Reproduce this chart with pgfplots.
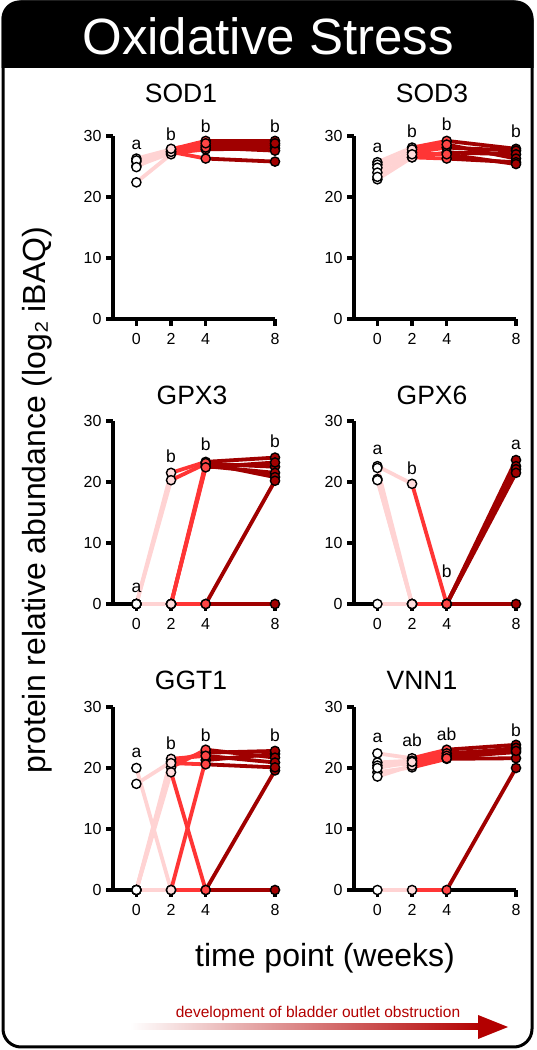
\documentclass[border=0pt]{standalone}
\usepackage{pgfplots}
\pgfplotsset{compat=1.18}
\usepackage{pgfplotstable}
\usepackage{fontspec}
\setmainfont{Liberation Sans}
\usetikzlibrary{shadings}

\definecolor{l02}{HTML}{FFD3D3}
\definecolor{l24}{HTML}{FF3535}
\definecolor{l48}{HTML}{A00000}
\definecolor{c2}{HTML}{FFDCDC}
\definecolor{c4}{HTML}{FF4545}
\definecolor{c8}{HTML}{A30000}
\definecolor{arr}{HTML}{B30000}

% subjects: value at week 0, 2, 4, 8
\pgfplotstableread{
t0 t2 t4 t8
26.3 27.8 29.2 29.2
25.8 27.5 28.4 28.5
25.1 27.2 27.8 28.0
22.4 27.0 28.1 27.6
26.0 27.4 26.3 25.8
24.9 27.9 28.8 28.8
}\sodone
\pgfplotstableread{
t0 t2 t4 t8
25.7 28.1 29.2 27.9
25.3 27.3 28.1 27.6
24.8 26.5 27.3 27.0
24.0 27.8 28.6 26.3
22.9 26.5 26.3 25.7
23.3 27.0 27.0 25.4
}\sodthree
\pgfplotstableread{
t0 t2 t4 t8
0 21.5 23.3 24.0
0 20.3 23.0 22.5
0 0 22.6 21.5
0 0 23.1 20.8
0 0 22.4 23.2
0 0 0 20.2
0 0 0 0
}\gpxthree
\pgfplotstableread{
t0 t2 t4 t8
22.6 19.7 0 23.6
20.5 0 0 22.6
22.3 0 0 22.1
20.3 0 0 21.5
0 0 0 0
}\gpxsix
\pgfplotstableread{
t0 t2 t4 t8
20.0 0 21.3 22.3
17.4 21.0 22.5 22.8
0 20.1 23.0 21.7
0 19.3 0 19.6
0 21.5 22.0 20.9
0 20.8 20.6 20.1
0 0 0 0
}\ggtone
\pgfplotstableread{
t0 t2 t4 t8
22.4 21.6 23.0 23.8
20.9 21.2 22.4 23.1
20.4 20.7 21.8 22.6
19.3 20.1 21.5 21.6
18.6 20.4 22.0 23.3
20.0 21.0 21.6 22.8
0 0 0 20.0
}\vnnone

\pgfplotsset{
  panel/.style={
    scale only axis, width=162pt, height=183pt,
    xmin=-1.35, xmax=8, ymin=0, ymax=30,
    axis x line=bottom, axis y line=left,
    axis line style={line width=3.2pt, -, black},
    xtick={0,2,4,8}, ytick={0,10,20,30},
    every tick/.append style={line width=3.2pt, black},
    major tick length=7pt, tick align=outside,
    clip=false, anchor=south west,
    /pgf/number format/assume math mode=true,
    tick label style={font=\fontsize{16}{16}\selectfont},
    xticklabel style={yshift=-4pt},
    yticklabel style={xshift=-1pt},
  },
  seg/.style={no markers, line width=3.8pt, line cap=round},
  pt/.style={only marks, mark=*, mark size=4.6pt,
    mark options={draw=black, line width=1.4pt, fill=#1}},
}

\newcommand{\plotpanel}[1]{%
  \addplot[l02, seg, quiver={u=2, v=\thisrow{t2}-\thisrow{t0}}] table[x expr=0, y=t0]{#1};
  \addplot[l24, seg, quiver={u=2, v=\thisrow{t4}-\thisrow{t2}}] table[x expr=2, y=t2]{#1};
  \addplot[l48, seg, quiver={u=4, v=\thisrow{t8}-\thisrow{t4}}] table[x expr=4, y=t4]{#1};
  \addplot[pt=white] table[x expr=0, y=t0]{#1};
  \addplot[pt=c2] table[x expr=2, y=t2]{#1};
  \addplot[pt=c4] table[x expr=4, y=t4]{#1};
  \addplot[pt=c8] table[x expr=8, y=t8]{#1};
}
\newcommand{\lt}{\fontsize{17.5}{17.5}\selectfont}
\newcommand{\ttl}{\fontsize{26.5}{26.5}\selectfont}

\begin{document}
\begin{tikzpicture}[x=1pt, y=1pt]
\path[use as bounding box] (0,0) rectangle (537,1050);
\begin{scope}
  \clip[rounded corners=18pt] (1.5,1.5) rectangle (533.5,1049.5);
  \fill[black] (0,982) rectangle (537,1050);
\end{scope}
\draw[line width=3pt, rounded corners=18pt] (3,3) rectangle (532,1048);
\node[white, font=\fontsize{51}{51}\selectfont] at (268,1014) {Oxidative Stress};

% row 1
\begin{axis}[panel, at={(113pt,731pt)}]
\plotpanel{\sodone}
\node[font=\lt] at (axis cs:0,28.6) {a};
\node[font=\lt] at (axis cs:2,30.3) {b};
\node[font=\lt] at (axis cs:4,31.6) {b};
\node[font=\lt] at (axis cs:8,31.6) {b};
\end{axis}
\begin{axis}[panel, at={(354pt,731pt)}]
\plotpanel{\sodthree}
\node[font=\lt] at (axis cs:0,28.0) {a};
\node[font=\lt] at (axis cs:2,30.8) {b};
\node[font=\lt] at (axis cs:4,31.9) {b};
\node[font=\lt] at (axis cs:8,30.8) {b};
\end{axis}
% row 2
\begin{axis}[panel, at={(113pt,446pt)}]
\plotpanel{\gpxthree}
\node[font=\lt] at (axis cs:0,2.6) {a};
\node[font=\lt] at (axis cs:2,24.3) {b};
\node[font=\lt] at (axis cs:4,26.2) {b};
\node[font=\lt] at (axis cs:8,26.6) {b};
\end{axis}
\begin{axis}[panel, at={(354pt,446pt)}]
\plotpanel{\gpxsix}
\node[font=\lt] at (axis cs:0,25.2) {a};
\node[font=\lt] at (axis cs:2,22.3) {b};
\node[font=\lt] at (axis cs:4,5.3) {b};
\node[font=\lt] at (axis cs:8,26.1) {a};
\end{axis}
% row 3
\begin{axis}[panel, at={(113pt,160pt)}]
\plotpanel{\ggtone}
\node[font=\lt] at (axis cs:0,22.4) {a};
\node[font=\lt] at (axis cs:2,24.0) {b};
\node[font=\lt] at (axis cs:4,25.3) {b};
\node[font=\lt] at (axis cs:8,25.3) {b};
\end{axis}
\begin{axis}[panel, at={(354pt,160pt)}]
\plotpanel{\vnnone}
\node[font=\lt] at (axis cs:0,24.9) {a};
\node[font=\lt] at (axis cs:2,24.5) {ab};
\node[font=\lt] at (axis cs:4,25.6) {ab};
\node[font=\lt] at (axis cs:8,26.2) {b};
\end{axis}

% panel titles
\node[font=\ttl] at (181,957) {SOD1};
\node[font=\ttl] at (432,957) {SOD3};
\node[font=\ttl] at (192,655) {GPX3};
\node[font=\ttl] at (432,655) {GPX6};
\node[font=\ttl] at (191,370) {GGT1};
\node[font=\ttl] at (422,370) {VNN1};

% axis titles
\node[rotate=90, font=\fontsize{32}{32}\selectfont] at (37,550) {protein relative abundance (log₂ iBAQ)};
\node[font=\fontsize{32}{32}\selectfont] at (325,92) {time point (weeks)};

% arrow
\node[arr, font=\fontsize{15.5}{15.5}\selectfont] at (318,37) {development of bladder outlet obstruction};
\shade[left color=white, right color=arr] (130,20) rectangle (482,26);
\fill[arr] (478,35) -- (508,23) -- (478,11) -- cycle;
\end{tikzpicture}
\end{document}
